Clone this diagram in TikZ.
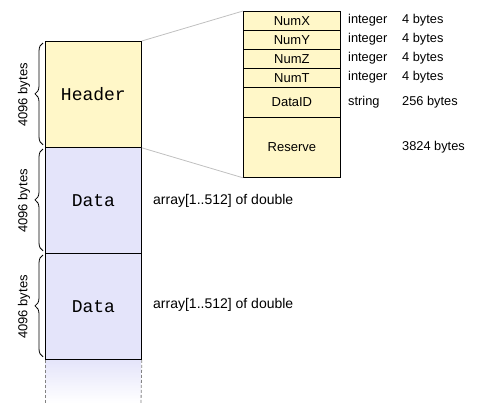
\documentclass[tikz,border=0pt]{standalone}
\usepackage{fontspec}
\setmainfont{Liberation Sans}
\newfontfamily\monofnt{Liberation Mono}
\usetikzlibrary{decorations.pathreplacing}
\definecolor{hdrcol}{RGB}{255,247,200}
\definecolor{datcol}{RGB}{228,228,250}
\definecolor{linkcol}{RGB}{192,192,192}
\definecolor{dashcol}{RGB}{130,130,130}
\begin{document}
\begin{tikzpicture}[x=1pt,y=-1pt,
  block/.style={draw=black, line width=0.8pt, minimum width=96pt, minimum height=106pt,
    inner sep=0pt, anchor=north west, font=\monofnt\fontsize{18}{20}\selectfont},
  field/.style={draw=black, line width=0.8pt, fill=hdrcol, minimum width=97pt, inner sep=0pt,
    anchor=north west, font=\fontsize{13}{15}\selectfont},
  info/.style={anchor=west, inner sep=0pt, font=\fontsize{12.8}{15}\selectfont},
  arr/.style={anchor=west, inner sep=0pt, font=\fontsize{14}{16}\selectfont},
  sizelbl/.style={rotate=90, inner sep=0pt, font=\fontsize{13}{15}\selectfont},
  bracket/.style={draw=black, line width=0.8pt, decorate, decoration={brace, amplitude=8pt}},
  link/.style={draw=linkcol, line width=0.8pt}
]
\useasboundingbox (0,0) rectangle (479,413);

% fading continuation
\shade[top color=datcol, bottom color=white] (45,359) rectangle (141,403);
\coordinate (fl) at (45,403);
\coordinate (fr) at (141,403);

% main column
\node[block, fill=hdrcol] (header) at (45,41) {Header};
\node[block, fill=datcol] (data1) at (45,147) {Data};
\node[block, fill=datcol] (data2) at (45,253) {Data};

\draw[dashcol, line width=0.8pt, dash pattern=on 3pt off 2pt] (data2.south west) -- (fl);
\draw[dashcol, line width=0.8pt, dash pattern=on 3pt off 2pt] (data2.south east) -- (fr);

% braces
\draw[bracket] ([xshift=-2pt,yshift=3pt]header.south west) -- ([xshift=-2pt,yshift=-2pt]header.north west);
\draw[bracket] ([xshift=-2pt,yshift=3pt]data1.south west) -- ([xshift=-2pt,yshift=-2pt]data1.north west);
\draw[bracket] ([xshift=-2pt,yshift=3pt]data2.south west) -- ([xshift=-2pt,yshift=-2pt]data2.north west);
\node[sizelbl] (s1) at (24,95) {4096 bytes};
\node[sizelbl] (s2) at (24,201) {4096 bytes};
\node[sizelbl] (s3) at (24,307) {4096 bytes};

% array labels
\node[arr] (a1) at (153,201) {array[1..512] of double};
\node[arr] (a2) at (153,305) {array[1..512] of double};

% header fields
\node[field, minimum height=19pt] (numx) at (243,11) {NumX};
\node[field, minimum height=19pt] (numy) at (243,30) {NumY};
\node[field, minimum height=19pt] (numz) at (243,49) {NumZ};
\node[field, minimum height=19pt] (numt) at (243,68) {NumT};
\node[field, minimum height=30pt] (dataid) at (243,87) {DataID};
\node[field, minimum height=60pt] (reserve) at (243,117) {Reserve};

\node[info] (t1) at (348,20.5) {integer};
\node[info] (t2) at (348,39.5) {integer};
\node[info] (t3) at (348,58.5) {integer};
\node[info] (t4) at (348,77.5) {integer};
\node[info] (t5) at (348,102) {string};
\node[info] (b1) at (402,20.5) {4 bytes};
\node[info] (b2) at (402,39.5) {4 bytes};
\node[info] (b3) at (402,58.5) {4 bytes};
\node[info] (b4) at (402,77.5) {4 bytes};
\node[info] (b5) at (402,102) {256 bytes};
\node[info] (b6) at (402,147) {3824 bytes};

% zoom links
\draw[link] (header.north east) -- (numx.north west);
\draw[link] (header.south east) -- (reserve.south west);
\end{tikzpicture}
\end{document}
